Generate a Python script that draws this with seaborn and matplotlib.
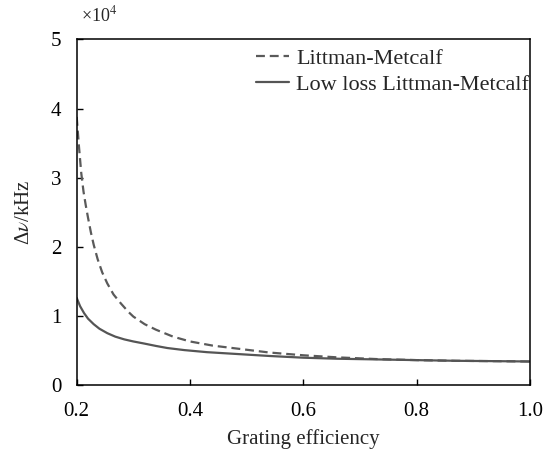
import matplotlib
matplotlib.use("Agg")
import matplotlib.pyplot as plt
import seaborn as sns
import pandas as pd

# Data (values in units of 1e4 kHz)
lm_x = [0.20, 0.204, 0.208, 0.212, 0.216, 0.22, 0.225, 0.23, 0.237, 0.245, 0.254, 0.265,
        0.278, 0.291, 0.30, 0.32, 0.34, 0.37, 0.40, 0.44, 0.48, 0.54, 0.60, 0.66, 0.73,
        0.80, 0.87, 0.94, 1.00]
lm_y = [3.88, 3.45, 3.07, 2.80, 2.60, 2.42, 2.21, 2.03, 1.82, 1.63, 1.47, 1.31,
        1.18, 1.06, 0.99, 0.88, 0.80, 0.70, 0.63, 0.57, 0.53, 0.47, 0.43, 0.40, 0.375,
        0.36, 0.35, 0.345, 0.34]
ll_x = [0.20, 0.206, 0.213, 0.22, 0.23, 0.24, 0.254, 0.268, 0.284, 0.30, 0.319, 0.34,
        0.36, 0.39, 0.43, 0.48, 0.54, 0.60, 0.66, 0.73, 0.80, 0.87, 0.94, 1.00]
ll_y = [1.26, 1.14, 1.04, 0.96, 0.88, 0.815, 0.75, 0.70, 0.66, 0.63, 0.60, 0.565,
        0.535, 0.505, 0.475, 0.45, 0.42, 0.395, 0.38, 0.37, 0.36, 0.35, 0.345, 0.34]
labels = ["Littman-Metcalf", "Low loss Littman-Metcalf"]
x_ticks = [0.2, 0.4, 0.6, 0.8, 1.0]
x_ticklabels = ["0.2", "0.4", "0.6", "0.8", "1.0"]
y_ticks = [0, 1, 2, 3, 4, 5]

sns.set_style("white")
plt.rcParams["font.family"] = ["Liberation Serif", "DejaVu Serif"]
plt.rcParams["mathtext.fontset"] = "stix"

fig = plt.figure(figsize=(5.44, 4.54), dpi=100)
ax = fig.add_axes([0.141, 0.152, 0.833, 0.761])

df1 = pd.DataFrame({"x": lm_x, "y": lm_y})
df2 = pd.DataFrame({"x": ll_x, "y": ll_y})
sns.lineplot(data=df1, x="x", y="y", ax=ax, color="#5a5a5a", lw=1.6,
             linestyle=(0, (4, 2.2)), label=labels[0])
sns.lineplot(data=df2, x="x", y="y", ax=ax, color="#555555", lw=1.6,
             linestyle="-", label=labels[1])

ax.set_xlim(0.2, 1.0)
ax.set_ylim(0, 5)
ax.set_xticks(x_ticks)
ax.set_xticklabels(x_ticklabels)
ax.set_yticks(y_ticks)
ax.tick_params(axis="both", direction="in", length=4, width=1, labelsize=15,
               colors="black", top=False, right=False, bottom=True, left=True)
ax.tick_params(axis="x", pad=12)
ax.tick_params(axis="y", pad=11)
for s in ax.spines.values():
    s.set_color("black")
    s.set_linewidth(1.1)

ax.set_xlabel("Grating efficiency", fontsize=15, labelpad=6)
ax.set_ylabel("Δ$\\nu$/kHz", fontsize=15, labelpad=12)
ax.text(0.01, 1.04, "×10$^4$", transform=ax.transAxes, fontsize=13,
        ha="left", va="bottom")

leg = ax.legend(loc="upper right", frameon=False, fontsize=16,
                handlelength=1.5, handletextpad=0.3, labelspacing=0.25,
                borderaxespad=0.0, bbox_to_anchor=(1.018, 1.0))

fig.savefig("out.png", dpi=100)
